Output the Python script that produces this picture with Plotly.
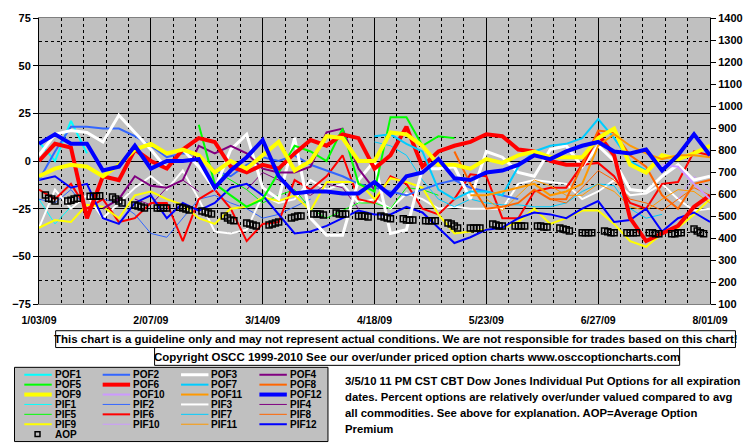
import plotly.graph_objects as go
import pandas as pd

# ---------------- data ----------------
# common date grid for the % series (every 5 days, 1/03/09 .. 8/01/09)
grid_start, grid_end = "2009-01-03", "2009-08-01"

tick_dates = ["2009-01-03", "2009-02-07", "2009-03-14", "2009-04-18",
              "2009-05-23", "2009-06-27", "2009-08-01"]
tick_text = ["1/03/09", "2/07/09", "3/14/09", "4/18/09", "5/23/09", "6/27/09", "8/01/09"]

N = None
POF1 = [10, 0, 21, 4] + [N] * 39
POF2 = [-10, 5, 18, 18, 17, 17, 13, 8, 2, 4, 3, -5, -8, -2, 2, 0, 3, -2, -5, -8,
        -12, -14, -16, -18, -15, -12, -10, -14, -16, -18, -20] + [N] * 12
POF3 = [3, 14, 16, 15, 10, 24, 15, 6, -4, 6, -3, -15, 6, 14, -14, -20, 12, -30, -39, -39,
        -10, 0, -38, -36, -4, -4, -3, -20, 5, 2, -6, -8, 6, 8, -3, 8, 0, -15, -16, -8,
        -2, -10, -8]
POF4 = [N, N, N, N, -25, -20, -8, -13, -14, -10, 8, 4, 8, 4, -4, -6, -6, -3, 15, 17,
        -4, -15] + [N] * 21
POF5 = [N] * 10 + [19, -12, -18, -24, -20, -6, 8, 5, 0, 17, -12, -16, 23, 23, 8, 13, 12] + [N] * 16
POF6 = [0, 9, 7, -30, -8, -10, 6, 0, -4, 6, 12, 10, -3, -6, -2, -4, 4, 11, 8, 14,
        12, -4, 3, 18, -3, 5, 8, 10, 14, 13, 6, 5, 0, -2, -2, 14, 3, -30, -42, -38,
        -34, -24, -18]
POF7 = [N] * 21 + [13, 14, 9, 5, -15, -20, -16, -16, -18, -3, 5, 8, 9, 12, 22, 12, 0, -5] + [N] * 4
POF8 = [N] * 26 + [5, -12, -25, -24, -22, -15, -20, -20, -2, 16, 15, 3, -3, -18, -25, -12, -10]
POF9 = [-8, -4, -2, -3, -8, -2, 6, 9, 4, 6, 3, -6, 0, -4, 3, 10, -5, 0, 13, 12,
        0, 0, 15, 14, 8, -2, -2, -4, 1, -1, 3, 5, 2, 2, 2, 12, 17, -2, -6, 3,
        1, 4, 8]
POF10 = [N] * 39 + [-2, -3, -12, -20]
POF11 = [N] * 27 + [-18, -18, -16, -14, -12, -18, -16, -12, 8, 14, 8, 4, 1, 3, 3, 2]
POF12 = [9, 14, 9, 9, -5, -3, 8, -4, 0, 0, 1, -14, -5, 2, 11, -8, -17, -16, -16, -17,
         -17, -11, -18, -8, -6, 1, -9, -10, -6, -5, -2, 3, 1, 5, 8, 10, 5, 4, 6, -5,
         3, 14, 3]

PIF1 = [-20, -33, -24] + [N] * 40
PIF2 = [-20, -22, -15, -25, -20, -22, -28, -38, -40, -30, -20, -18, -22, -25, -30, -28,
        -24, -20] + [N] * 25
PIF3 = [-35, -15, -25, -18, -30, -22, -14, -8, -15, -5, -20, -37, -38, -36, -18, -22,
        -20, -10, -15, -12, -22, -20, -25, -17, -20, -25, -24, -25, -25, -25, -12, -10,
        -11, -12, -20, -16, -10, -18, -17, -12, -20, -26, -25]
PIF4 = [N] * 6 + [-20, -23, -14, -10, -16, N, N, -15, -6, -10, -16, -18, -12, -14, -25] + [N] * 22
PIF5 = [N] * 11 + [-5, -10, -15, -22, -18, -15, -25, -30, -26, -22, -22, -25, -14, -15, -18] + [N] * 17
PIF6 = [-15, -20, -12, -25, -20, -32, -30, -22, -22, -42, -20, -15, -25, -42, -33, -32,
        -10, -15, -8, 3, -20, -22, -8, -12, -25, -28, -20, -7, -8, -30, -30, -16, -14,
        -14, -2, -1, -8, -22, -25, -12, -11, 5, 3]
PIF7 = [N] * 21 + [10, 8, 3, -10, -20, -24, -20, -22, -23, -23, -24, -24, -22, -16, -12,
                   -13, -25, -30, -28] + [N] * 3
PIF8 = [N] * 32 + [-20, -22, -14, -5, -10, -20, -22, -26, -20, -14, -18]
PIF9 = [-35, -31, -32, -23, -24, -30, -18, -16, -20, -23, -30, -33, -25, -24, -19, -21,
        -18, -26, -11, -11, -11, -20, -9, -11, -14, -28, -38, -37, -36, -35, -32, -25,
        -33, -30, -26, -26, -33, -42, -45, -38, -35, -28, -20]
PIF10 = [N] * 40 + [-20, -8, -15]
PIF11 = [N] * 28 + [-20, -26, -18, -10, -13, -18, -18, -12, -16, -24, -26, -20, -15, -16, -22]
PIF12 = [-10, -8, -14, -12, -30, -33, -22, -18, -30, -22, -26, -22, -14, -12, -18, -28,
         -38, -37, -34, -30, -26, -28, -28, -24, -27, -35, -43, -40, -36, -35, -30, -27,
         -28, -30, -25, -21, -32, -31, -25, -37, -30, -27, -32]

# AOP (average option premium, right axis), Mon-Thu of each week
AOP_weeks = [
    [595, 581, 577, 568], [568, 572, 577, 581], [590, 590, 590, 592], [586, 577, 568, 559],
    [550, 545, 541, 536], [536, 536, 536, 536], [540, 536, 532, 527], [523, 518, 514, 509],
    [500, 491, 482, 478], [468, 464, 459, 455], [459, 464, 468, 473], [491, 496, 500, 500],
    [509, 509, 509, 505], [514, 509, 509, 509], [500, 500, 500, 496], [500, 496, 491, 487],
    [487, 482, 482, 482], [478, 478, 478, 478], [468, 464, 455, 446], [446, 446, 446, 446],
    [464, 459, 455, 455], [455, 455, 455, 455], [455, 455, 450, 450], [446, 441, 437, 432],
    [424, 424, 424, 424], [432, 428, 424, 424], [424, 424, 424, 424], [424, 424, 419, 419],
    [419, 419, 424, 424], [441, 432, 424, 419],
]

names = ["POF1", "POF2", "POF3", "POF4", "POF5", "POF6", "POF7", "POF8", "POF9", "POF10", "POF11", "POF12",
         "PIF1", "PIF2", "PIF3", "PIF4", "PIF5", "PIF6", "PIF7", "PIF8", "PIF9", "PIF10", "PIF11", "PIF12"]
series = [POF1, POF2, POF3, POF4, POF5, POF6, POF7, POF8, POF9, POF10, POF11, POF12,
          PIF1, PIF2, PIF3, PIF4, PIF5, PIF6, PIF7, PIF8, PIF9, PIF10, PIF11, PIF12]
base_colors = ["#00FFFF", "#3366FF", "#FFFFFF", "#800080", "#00FF00", "#FF0000",
               "#00CCFF", "#FF6600", "#FFFF00", "#CC99FF", "#FF9900", "#0000FF"]
pof_widths = [2, 2, 3, 2, 2, 4, 2, 2, 4, 2, 2, 4]
pif_widths = [1, 1, 2, 1, 1, 2, 1, 1, 2, 1, 1, 2]
colors = base_colors + base_colors
widths = pof_widths + pif_widths

# ---------------- layout helpers ----------------
W, H = 755, 446
ML, MR, MT, MB = 32, 38, 15, 142
PW, PH = W - ML - MR, H - MT - MB
FONT = "Liberation Sans, Arial, sans-serif"


def xp(x):
    return (x - ML) / PW


def yp(y):
    return (H - MB - y) / PH


dates = pd.date_range(grid_start, grid_end, freq="5D")
aop_days = pd.bdate_range("2009-01-05", periods=150)
aop_days = aop_days[aop_days.dayofweek < 4][:len(AOP_weeks) * 4]
aop_vals = [v for wk in AOP_weeks for v in wk]

fig = go.Figure()
order = list(range(12, 24)) + list(range(0, 12))
for i in order:
    fig.add_trace(go.Scatter(x=dates, y=series[i], mode="lines", name=names[i],
                             line=dict(color=colors[i], width=widths[i]),
                             connectgaps=False, showlegend=False))
fig.add_trace(go.Scatter(x=aop_days, y=aop_vals, mode="markers", name="AOP", yaxis="y2",
                         marker=dict(symbol="square-open", size=6, color="black",
                                     line=dict(width=1.5, color="black")),
                         showlegend=False))

shapes = []
annotations = []


def note(x, y, text, size, xanchor="center"):
    return dict(xref="paper", yref="paper", x=xp(x), y=yp(y), showarrow=False,
                xanchor=xanchor, yanchor="middle", text=text, borderpad=0,
                font=dict(family=FONT, size=size, color="black", weight="bold"))


# text boxes below the plot
shapes.append(dict(type="rect", xref="paper", yref="paper", x0=xp(49), x1=xp(743),
                   y0=yp(348), y1=yp(331), line=dict(color="black", width=1), fillcolor="white"))
annotations.append(note(396, 339.5,
                        "This chart is a guideline only and may not represent actual conditions. "
                        "We are not responsible for trades based on this chart!", 11.5))
shapes.append(dict(type="rect", xref="paper", yref="paper", x0=xp(150), x1=xp(686),
                   y0=yp(366), y1=yp(348), line=dict(color="black", width=1), fillcolor="white"))
annotations.append(note(418, 357.5,
                        "Copyright OSCC 1999-2010 See our over/under priced option charts "
                        "www.osccoptioncharts.com", 11.5))

# custom legend box
shapes.append(dict(type="rect", xref="paper", yref="paper", x0=xp(7), x1=xp(327),
                   y0=yp(443), y1=yp(368), line=dict(color="black", width=1), fillcolor="#C0C0C0"))
for k, nm in enumerate(names):
    row, col = divmod(k, 4)
    y = 375.5 + 10 * row
    x0 = 17 + 80 * col
    shapes.append(dict(type="line", xref="paper", yref="paper", x0=xp(x0), x1=xp(x0 + 28),
                       y0=yp(y), y1=yp(y), line=dict(color=colors[k], width=widths[k])))
    annotations.append(note(x0 + 30, y, nm, 10, xanchor="left"))
# AOP legend entry
shapes.append(dict(type="rect", xref="paper", yref="paper", x0=xp(28), x1=xp(33),
                   y0=yp(438), y1=yp(433), line=dict(color="black", width=1.5)))
annotations.append(note(47, 435.5, "AOP", 10, xanchor="left"))

desc = ["3/5/10 11 PM CST CBT Dow Jones Individual Put Options for all expiration",
        "dates. Percent options are relatively over/under valued compared to avg",
        "all commodities. See above for explanation. AOP=Average Option",
        "Premium"]
for j, line in enumerate(desc):
    annotations.append(note(343, 382 + 16 * j, line, 11.3, xanchor="left"))

tickfont = dict(family=FONT, size=11, color="black", weight="bold")
fig.update_layout(
    width=W, height=H, margin=dict(l=ML, r=MR, t=MT, b=MB, pad=0),
    paper_bgcolor="white", plot_bgcolor="#C0C0C0",
    showlegend=False,
    xaxis=dict(type="date", range=[grid_start, grid_end],
               tickmode="array", tickvals=tick_dates, ticktext=tick_text,
               tickfont=dict(family=FONT, size=10.5, color="black", weight="bold"),
               ticks="outside", ticklen=6, tickcolor="rgba(0,0,0,0)",
               showgrid=True, gridcolor="black", gridwidth=1,
               showline=True, linecolor="#808080", linewidth=1, mirror=True,
               minor=dict(tickmode="linear", tick0=grid_start, dtick=7 * 86400000,
                          showgrid=True, gridcolor="black", gridwidth=1, griddash="3px,3px",
                          ticks=""),
               zeroline=False, fixedrange=True),
    yaxis=dict(range=[-75, 75], tickmode="linear", tick0=-75, dtick=25,
               tickfont=tickfont, ticks="outside", ticklen=5, tickcolor="black",
               showgrid=True, gridcolor="black", gridwidth=1,
               minor=dict(tickmode="linear", tick0=-62.5, dtick=25, showgrid=True,
                          gridcolor="black", gridwidth=1, griddash="3px,3px", ticks=""),
               showline=True, linecolor="black", linewidth=1,
               zeroline=False, fixedrange=True),
    yaxis2=dict(range=[100, 1400], overlaying="y", side="right", tickmode="linear",
                tick0=100, dtick=100, tickfont=tickfont, ticks="outside", ticklen=5,
                tickcolor="black", showgrid=False, showline=True, linecolor="black",
                linewidth=1, zeroline=False, fixedrange=True),
    shapes=shapes, annotations=annotations,
)

fig.write_html("out.html", config={"displayModeBar": False},
               post_script="document.body.style.margin='0';document.body.style.padding='0';")
